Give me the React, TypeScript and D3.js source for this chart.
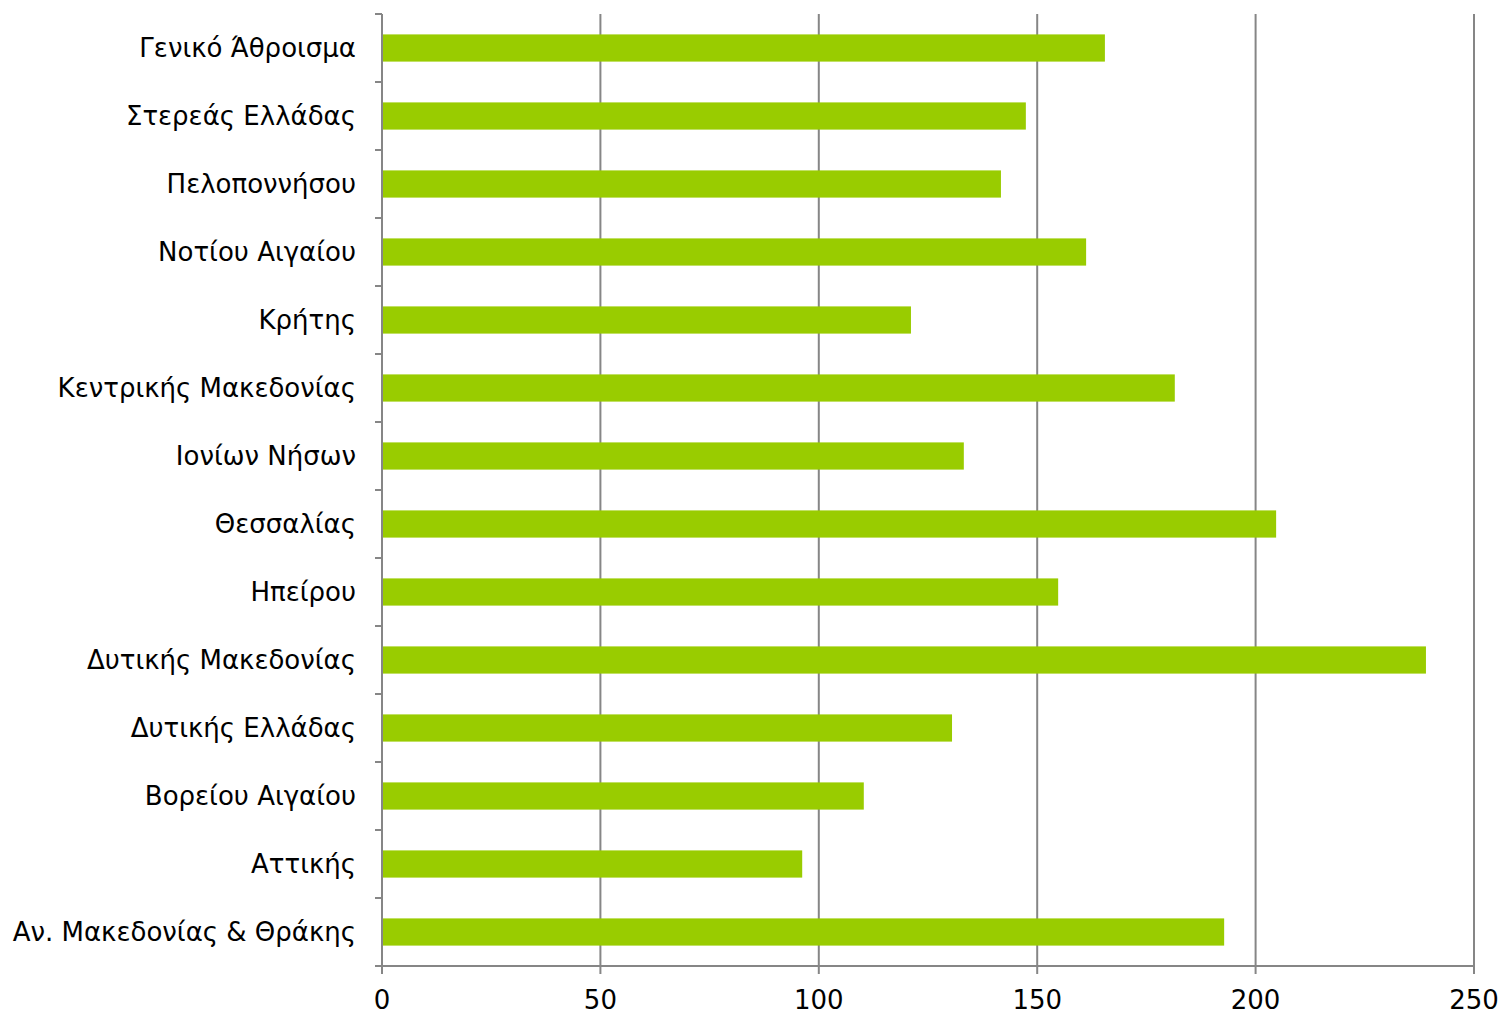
import { useEffect, useRef } from 'react'
import * as d3 from 'd3'

const categories = [
    'Γενικό Άθροισμα',
    'Στερεάς Ελλάδας',
    'Πελοποννήσου',
    'Νοτίου Αιγαίου',
    'Κρήτης',
    'Κεντρικής Μακεδονίας',
    'Ιονίων Νήσων',
    'Θεσσαλίας',
    'Ηπείρου',
    'Δυτικής Μακεδονίας',
    'Δυτικής Ελλάδας',
    'Βορείου Αιγαίου',
    'Αττικής',
    'Αν. Μακεδονίας & Θράκης',
]
const values = [165.5, 147.4, 141.7, 161.2, 121.1, 181.5, 133.2, 204.7, 154.8, 239.0, 130.5, 110.3, 96.2, 192.8]
const xTicks = [0, 50, 100, 150, 200, 250]

const App = () => {
    const ref = useRef<SVGSVGElement | null>(null)

    useEffect(() => {
        if (!ref.current) return
        const width = 1502
        const height = 1014
        const left = 382
        const right = 1474
        const top = 14
        const bottom = 966
        const font = '"DejaVu Sans", Verdana, sans-serif'

        const svg = d3.select(ref.current)
        svg.selectAll('*').remove()
        svg.attr('width', width).attr('height', height)

        const x = d3.scaleLinear().domain([0, 250]).range([left, right])
        const y = d3.scaleBand<string>().domain(categories).range([top, bottom]).paddingInner(0.6).paddingOuter(0.3)
        const step = y.step()

        // gridlines
        svg.append('g')
            .selectAll('line')
            .data(xTicks.slice(1))
            .join('line')
            .attr('x1', d => x(d))
            .attr('x2', d => x(d))
            .attr('y1', top)
            .attr('y2', bottom)
            .attr('stroke', '#868686')
            .attr('stroke-width', 2)

        // bars
        svg.append('g')
            .selectAll('rect')
            .data(categories)
            .join('rect')
            .attr('x', x(0))
            .attr('y', d => y(d)!)
            .attr('width', (_, i) => x(values[i]) - x(0))
            .attr('height', y.bandwidth())
            .attr('fill', '#99cc00')

        // y axis
        const boundaries = categories.map(c => y(c)! + y.bandwidth() / 2 - step / 2)
        boundaries.push(bottom)
        svg.append('line')
            .attr('x1', left).attr('x2', left)
            .attr('y1', top).attr('y2', bottom)
            .attr('stroke', '#868686').attr('stroke-width', 2)
        svg.append('g')
            .selectAll('line')
            .data(boundaries)
            .join('line')
            .attr('x1', left - 7).attr('x2', left)
            .attr('y1', d => d).attr('y2', d => d)
            .attr('stroke', '#868686').attr('stroke-width', 2)
        svg.append('g')
            .selectAll('text')
            .data(categories)
            .join('text')
            .attr('x', left - 26)
            .attr('y', d => y(d)! + y.bandwidth() / 2)
            .attr('dy', '0.35em')
            .attr('text-anchor', 'end')
            .attr('font-family', font)
            .attr('font-size', 26)
            .attr('fill', '#000')
            .text(d => d)

        // x axis
        svg.append('line')
            .attr('x1', left).attr('x2', right)
            .attr('y1', bottom).attr('y2', bottom)
            .attr('stroke', '#868686').attr('stroke-width', 2)
        svg.append('g')
            .selectAll('line')
            .data(xTicks)
            .join('line')
            .attr('x1', d => x(d)).attr('x2', d => x(d))
            .attr('y1', bottom).attr('y2', bottom + 8)
            .attr('stroke', '#868686').attr('stroke-width', 2)
        svg.append('g')
            .selectAll('text')
            .data(xTicks)
            .join('text')
            .attr('x', d => x(d))
            .attr('y', 1009)
            .attr('text-anchor', 'middle')
            .attr('font-family', font)
            .attr('font-size', 26)
            .attr('fill', '#000')
            .text(d => d)
    }, [])

    return (
        <div style={{ position: 'absolute', left: 0, top: 0 }}>
            <svg ref={ref}></svg>
        </div>
    )
}

export default App
